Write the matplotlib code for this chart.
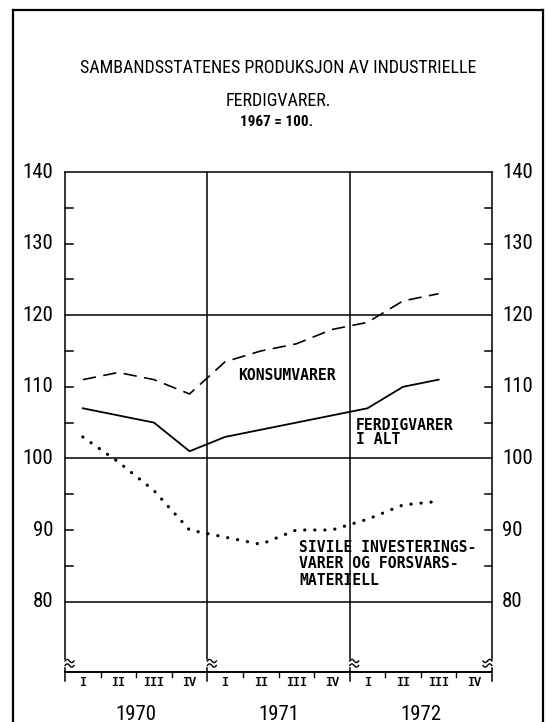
import matplotlib
matplotlib.use('Agg')
import matplotlib.pyplot as plt
from matplotlib import font_manager as fm
from matplotlib.lines import Line2D
import numpy as np

# ---------------- data ----------------
years = ['1970', '1971', '1972']
quarters = ['I', 'II', 'III', 'IV']
konsumvarer = [111, 112, 111, 109, 113.5, 115, 116, 118, 119, 122, 123]
ferdigvarer_i_alt = [107, 106, 105, 101, 103, 104, 105, 106, 107, 110, 111]
sivile_invest = [103, 99.5, 95.5, 90, 89, 88, 90, 90, 91.5, 93.5, 94]
y_labels = [80, 90, 100, 110, 120, 130, 140]
y_grid = [80, 100, 120, 140]
y_minor = [85, 90, 95, 105, 110, 115, 125, 130, 135]

title1 = 'SAMBANDSSTATENES PRODUKSJON AV INDUSTRIELLE'
title2 = 'FERDIGVARER.'
title3 = '1967 = 100.'

# ---------------- fonts ----------------
names = {f.name for f in fm.fontManager.ttflist}
def pick(*c):
    for n in c:
        if n in names:
            return n
    return 'DejaVu Sans'
COND = pick('Liberation Sans Narrow', 'Roboto Condensed', 'Open Sans Condensed', 'DejaVu Sans')
MONO = pick('DejaVu Sans Mono', 'Liberation Mono')
QFONT = pick('Liberation Mono', 'DejaVu Sans Mono')

W, H = 546, 722
fig = plt.figure(figsize=(W / 100, H / 100), dpi=100)

# pixel geometry
X0, X1 = 65, 492          # plot left/right in px
Y140 = 172                 # px of 140
PPU = 7.16                 # px per index unit
ybot = 140 - (H - Y140) / PPU
ax = fig.add_axes([X0 / W, 0, (X1 - X0) / W, (H - Y140) / H])
ax.set_xlim(0, 12)
ax.set_ylim(ybot, 140)
ax.axis('off')

qpx = (X1 - X0) / 12.0     # px per quarter
def dx(px):
    return px / qpx
def dy(px):
    return px / PPU

lc = 'black'
lw_ax = 1.1

# y-values for axis structure
y_break_top = 140 - (659 - Y140) / PPU
y_break_bot = 140 - (668 - Y140) / PPU
y_xaxis = 140 - (672 - Y140) / PPU
y_below = 140 - (681 - Y140) / PPU

# vertical lines (axes and year separators) with break marks
for xb, direction in [(0, 1), (4, 1), (8, 1), (12, -1)]:
    ax.plot([xb, xb], [y_break_top, 140], color=lc, lw=lw_ax, clip_on=False)
    ax.plot([xb, xb], [y_below, y_break_bot], color=lc, lw=lw_ax, clip_on=False)
    t = np.linspace(0, 1, 30)
    for yc_px in (661.0, 665.5):
        yc = 140 - (yc_px - Y140) / PPU
        xs = xb + direction * dx(9) * t
        ys = yc + dy(1.6) * np.sin(2 * np.pi * t)
        ax.plot(xs, ys, color=lc, lw=1.0, clip_on=False)

# horizontal grid lines
for g in y_grid:
    ax.plot([0, 12], [g, g], color=lc, lw=lw_ax, clip_on=False)

# minor ticks on both sides
for m in y_minor:
    ax.plot([0, dx(8)], [m, m], color=lc, lw=lw_ax, clip_on=False)
    ax.plot([12 - dx(7), 12], [m, m], color=lc, lw=lw_ax, clip_on=False)

# x axis line
ax.plot([0, 12], [y_xaxis, y_xaxis], color=lc, lw=1.4, clip_on=False)
for q in range(1, 12):
    if q % 4 != 0:
        ax.plot([q, q], [y_xaxis, y_xaxis - dy(5)], color=lc, lw=1.0, clip_on=False)

# y tick labels
for v in y_labels:
    ax.text(-dx(12), v, str(v), ha='right', va='center', fontsize=15,
            family=COND, fontstretch='condensed')
    ax.text(12 + dx(10), v, str(v), ha='left', va='center', fontsize=15,
            family=COND, fontstretch='condensed')

# quarter and year labels
yq = 140 - (683.5 - Y140) / PPU
yy = 140 - (714 - Y140) / PPU
for yi, yr in enumerate(years):
    for qi, ql in enumerate(quarters):
        ax.text(yi * 4 + qi + 0.5, yq, ql, ha='center', va='center',
                fontsize=8.5, family=QFONT, fontweight='bold')
    ax.text(yi * 4 + 2, yy, yr, ha='center', va='center', fontsize=15,
            family=COND, fontstretch='condensed')

# series
xs = np.arange(len(konsumvarer)) + 0.5
ax.plot(xs, konsumvarer, color=lc, lw=1.2, dashes=(8, 4.5), clip_on=False)
ax.plot(xs, ferdigvarer_i_alt, color=lc, lw=1.3, clip_on=False)
ax.plot(xs, sivile_invest, color=lc, lw=2.3, dashes=(0.05, 3.1),
        dash_capstyle='round', clip_on=False)

# series labels
lab_kw = dict(family=MONO, fontsize=10.6, fontweight='bold', ha='left', va='center')
ax.text(dx(238 - X0), 140 - (375 - Y140) / PPU, 'KONSUMVARER', **lab_kw)
ax.text(dx(356 - X0), 140 - (425 - Y140) / PPU, 'FERDIGVARER', **lab_kw)
ax.text(dx(356 - X0), 140 - (440 - Y140) / PPU, 'I ALT', **lab_kw)
ax.text(dx(299 - X0), 140 - (548 - Y140) / PPU, 'SIVILE INVESTERINGS-', **lab_kw)
ax.text(dx(299 - X0), 140 - (564 - Y140) / PPU, 'VARER OG FORSVARS-', **lab_kw)
ax.text(dx(299 - X0), 140 - (580 - Y140) / PPU, 'MATERIELL', **lab_kw)

# titles
fig.text(278 / W, 1 - 68 / H, title1, ha='center', va='center', fontsize=13,
         family=COND, fontstretch='condensed')
fig.text(278 / W, 1 - 101 / H, title2, ha='center', va='center', fontsize=13,
         family=COND, fontstretch='condensed')
fig.text(276 / W, 1 - 122 / H, title3, ha='center', va='center', fontsize=11,
         family=COND, fontstretch='condensed', fontweight='bold')

# outer frame
fx0, fx1, fy0 = 12.5 / W, 543 / W, 1 - 10 / H
for xs_, ys_ in [([fx0, fx0], [-0.02, fy0]), ([fx0, fx1], [fy0, fy0]), ([fx1, fx1], [fy0, -0.02])]:
    fig.add_artist(Line2D(xs_, ys_, color=lc, lw=1.6, transform=fig.transFigure))

fig.savefig('out.png', dpi=100)
